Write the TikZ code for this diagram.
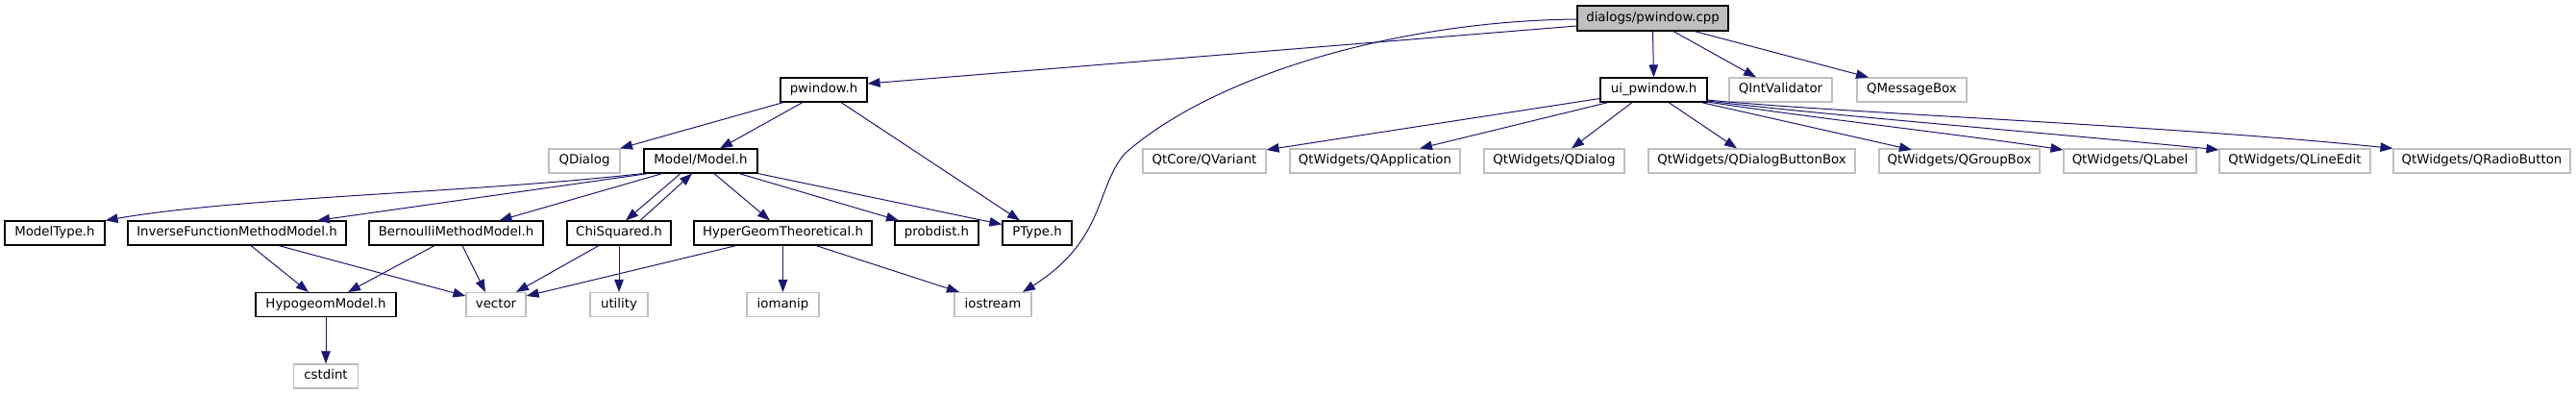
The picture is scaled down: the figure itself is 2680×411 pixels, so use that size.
\documentclass[tikz,border=0pt]{standalone}
\usepackage{fontspec}
\setmainfont{DejaVu Sans}
\usetikzlibrary{arrows.meta}
\definecolor{edgeblue}{HTML}{191970}
\definecolor{extgray}{HTML}{BFBFBF}
\definecolor{rootfill}{HTML}{BFBFBF}
\tikzset{
  base/.style={rectangle, inner sep=0pt, minimum height=25pt, text height=10pt, text depth=3pt,
    font=\fontsize{13.33}{16}\selectfont},
  intbox/.style={base, draw=black, line width=1.15pt, fill=white},
  extbox/.style={base, draw=extgray, line width=1.15pt, fill=white},
  rootbox/.style={base, draw=black, line width=1.15pt, fill=rootfill, minimum height=26pt},
  dep/.style={draw=edgeblue, line width=1pt,
    arrows={-{Triangle[length=13pt,width=9.5pt,fill=edgeblue,color=edgeblue]}}},
}
\begin{document}
\begin{tikzpicture}[x=1pt,y=-1pt]
\useasboundingbox (0,0) rectangle (2680,411);
% row 0
\node[rootbox, minimum width=157pt] (cpp) at (1719.5,19) {dialogs/pwindow.cpp};
% row 1
\node[intbox, minimum width=90pt] (pw) at (857,93.5) {pwindow.h};
\node[intbox, minimum width=111pt] (ui) at (1720.5,93.5) {ui\_pwindow.h};
\node[extbox, minimum width=107pt] (qiv) at (1852.5,93.5) {QIntValidator};
\node[extbox, minimum width=114pt] (qmb) at (1989,93.5) {QMessageBox};
% row 2
\node[extbox, minimum width=74pt] (qdlg) at (608,167.5) {QDialog};
\node[intbox, minimum width=118pt] (model) at (729,167.5) {Model/Model.h};
\node[extbox, minimum width=128pt] (qvar) at (1253,167.5) {QtCore/QVariant};
\node[extbox, minimum width=177pt] (qapp) at (1430.5,167.5) {QtWidgets/QApplication};
\node[extbox, minimum width=146pt] (qwdlg) at (1617,167.5) {QtWidgets/QDialog};
\node[extbox, minimum width=215pt] (qdbb) at (1822.5,167.5) {QtWidgets/QDialogButtonBox};
\node[extbox, minimum width=167pt] (qgb) at (2038.5,167.5) {QtWidgets/QGroupBox};
\node[extbox, minimum width=138pt] (qlab) at (2216,167.5) {QtWidgets/QLabel};
\node[extbox, minimum width=157pt] (qle) at (2387.5,167.5) {QtWidgets/QLineEdit};
\node[extbox, minimum width=184pt] (qrb) at (2582,167.5) {QtWidgets/QRadioButton};
% row 3
\node[intbox, minimum width=104pt] (mtype) at (57,242.5) {ModelType.h};
\node[intbox, minimum width=227pt] (inv) at (246.5,242.5) {InverseFunctionMethodModel.h};
\node[intbox, minimum width=181pt] (bern) at (474.5,242.5) {BernoulliMethodModel.h};
\node[intbox, minimum width=108pt] (chi) at (644,242.5) {ChiSquared.h};
\node[intbox, minimum width=185pt] (hgt) at (814.5,242.5) {HyperGeomTheoretical.h};
\node[intbox, minimum width=87pt] (prob) at (974.5,242.5) {probdist.h};
\node[intbox, minimum width=72pt] (ptype) at (1079,242.5) {PType.h};
% row 4
\node[intbox, minimum width=146pt] (hypo) at (339,317) {HypogeomModel.h};
\node[extbox, minimum width=62pt] (vec) at (516,317) {vector};
\node[extbox, minimum width=60pt] (util) at (644,317) {utility};
\node[extbox, minimum width=75pt] (ioman) at (814.5,317) {iomanip};
\node[extbox, minimum width=80pt] (ios) at (1033,317) {iostream};
% row 5
\node[extbox, minimum width=67pt] (cstd) at (339,391.5) {cstdint};

% edges from cpp
\draw[dep] ([yshift=-8pt]cpp.west) -- ([yshift=6.5pt]pw.east);
\draw[dep] ([yshift=-1pt]cpp.west) .. controls (1450,22) and (1260,80) .. (1170,160)
   .. controls (1140,195) and (1150,250) .. ([xshift=31pt]ios.north);
\draw[dep] (cpp.south) -- (ui.north);
\draw[dep] ([xshift=21.5pt]cpp.south) -- ([xshift=-25.5pt]qiv.north);
\draw[dep] ([xshift=43.5pt]cpp.south) -- ([xshift=-45pt]qmb.north);
% edges from pwindow.h
\draw[dep] ([xshift=-42pt]pw.south) -- ([xshift=37pt]qdlg.north);
\draw[dep] ([xshift=-22pt]pw.south) -- ([xshift=20pt]model.north);
\draw[dep] ([xshift=18pt]pw.south) -- ([xshift=-18pt]ptype.north);
% edges from Model.h
\draw[dep] ([xshift=-1pt]model.south west) .. controls (500,200) and (250,205) .. (mtype.north east);
\draw[dep] ([xshift=5pt]model.south west) -- ([xshift=83.5pt]inv.north);
\draw[dep] ([xshift=-40pt]model.south) -- ([xshift=45pt]bern.north);
\draw[dep] ([xshift=-21pt]model.south) -- ([xshift=7pt]chi.north);
\draw[dep] ([xshift=22pt]chi.north) -- ([xshift=-9pt]model.south);
\draw[dep] ([xshift=14pt]model.south) -- ([xshift=-13.5pt]hgt.north);
\draw[dep] ([xshift=40pt]model.south) -- ([xshift=-39.5pt]prob.north);
\draw[dep] (model.south east) -- ([yshift=9pt]ptype.west);
% row 3 edges
\draw[dep] ([xshift=14.5pt]inv.south) -- ([xshift=-18pt]hypo.north);
\draw[dep] ([xshift=43.5pt]inv.south) -- ([yshift=9pt]vec.west);
\draw[dep] ([xshift=-22.5pt]bern.south) -- ([xshift=23pt]hypo.north);
\draw[dep] ([xshift=6.5pt]bern.south) -- ([xshift=-11pt]vec.north);
\draw[dep] ([xshift=-21pt]chi.south) -- ([xshift=21pt]vec.north);
\draw[dep] (chi.south) -- (util.north);
\draw[dep] ([xshift=-48.5pt]hgt.south) -- ([yshift=9pt]vec.east);
\draw[dep] (hgt.south) -- (ioman.north);
\draw[dep] ([xshift=34.5pt]hgt.south) -- ([xshift=-35pt]ios.north);
\draw[dep] (hypo.south) -- (cstd.north);
% edges from ui_pwindow.h
\draw[dep] ([yshift=-9pt]ui.west) -- ([yshift=-1.5pt]qvar.north east);
\draw[dep] ([xshift=-47.5pt]ui.south) -- ([xshift=46.5pt]qapp.north);
\draw[dep] ([xshift=-22.5pt]ui.south) -- ([xshift=18pt]qwdlg.north);
\draw[dep] ([xshift=15.5pt]ui.south) -- ([xshift=-15.5pt]qdbb.north);
\draw[dep] ([xshift=49.5pt]ui.south) -- ([xshift=-49.5pt,yshift=-1.5pt]qgb.north);
\draw[dep] ([yshift=0.5pt]ui.south east) .. controls (1880,122) and (2040,140) .. ([yshift=-1.5pt]qlab.north west);
\draw[dep] ([yshift=1.5pt]ui.south east) .. controls (1900,120) and (2150,140) .. ([yshift=-1.5pt]qle.north west);
\draw[dep] ([yshift=2.5pt]ui.south east) .. controls (1920,118) and (2250,130) .. (qrb.north west);
\end{tikzpicture}
\end{document}
